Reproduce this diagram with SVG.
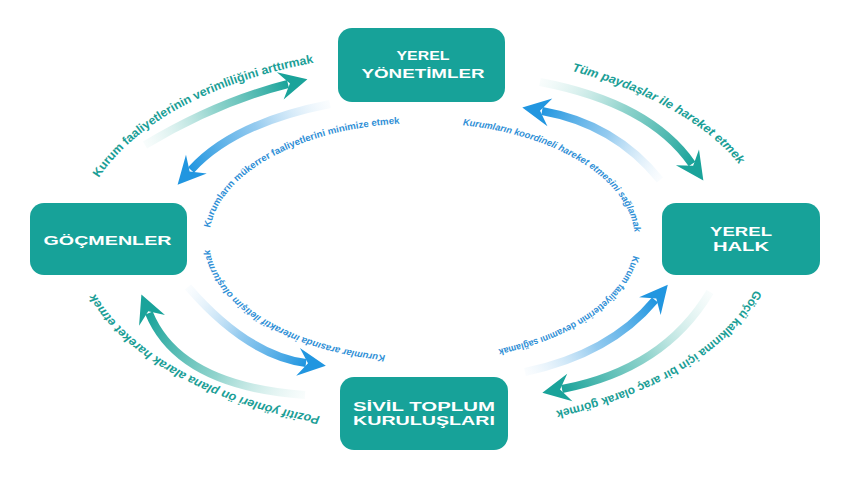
<svg xmlns="http://www.w3.org/2000/svg" width="850" height="480" viewBox="0 0 850 480">
<style>
.box{fill:#17a299}
.nt{fill:#ffffff;font-family:"Liberation Sans",Arial,sans-serif;font-weight:bold;font-size:12.5px;text-anchor:middle}
.ot{fill:#1a9e96;font-family:"Liberation Sans",Arial,sans-serif;font-weight:bold;font-size:12px}
.it{fill:#2f8fd6;font-family:"Liberation Sans",Arial,sans-serif;font-weight:bold;font-size:9.5px}
.i{font-style:italic}
.arr{fill:none;stroke-width:8}
</style>
<defs>
<linearGradient id="gT">
<stop offset="0" stop-color="#bfe6e2" stop-opacity="0.1"/>
<stop offset="0.5" stop-color="#6cc5bc" stop-opacity="0.75"/>
<stop offset="1" stop-color="#1aa39a"/>
</linearGradient>
<linearGradient id="gB">
<stop offset="0" stop-color="#cfe6f7" stop-opacity="0.1"/>
<stop offset="0.5" stop-color="#79bdeb" stop-opacity="0.8"/>
<stop offset="1" stop-color="#2196e0"/>
</linearGradient>
<linearGradient id="g1" href="#gT" gradientUnits="userSpaceOnUse" x1="145" y1="145" x2="288" y2="84"/>
<linearGradient id="g2" href="#gB" gradientUnits="userSpaceOnUse" x1="330" y1="104" x2="191" y2="170"/>
<linearGradient id="g3" href="#gT" gradientUnits="userSpaceOnUse" x1="540" y1="82" x2="692" y2="164"/>
<linearGradient id="g4" href="#gB" gradientUnits="userSpaceOnUse" x1="660" y1="180" x2="542" y2="111"/>
<linearGradient id="g5" href="#gB" gradientUnits="userSpaceOnUse" x1="525" y1="372" x2="655" y2="300"/>
<linearGradient id="g6" href="#gT" gradientUnits="userSpaceOnUse" x1="710" y1="292" x2="562" y2="389"/>
<linearGradient id="g7" href="#gT" gradientUnits="userSpaceOnUse" x1="305" y1="395" x2="149" y2="313"/>
<linearGradient id="g8" href="#gB" gradientUnits="userSpaceOnUse" x1="188" y1="287" x2="306" y2="363"/>
<marker id="hT" markerUnits="userSpaceOnUse" viewBox="-10 -16 32 32" markerWidth="32" markerHeight="32" refX="0" refY="0" orient="auto" overflow="visible">
<polygon points="20,0 -8,-14 2,0 -8,14" fill="#1aa39a"/>
</marker>
<marker id="hB" markerUnits="userSpaceOnUse" viewBox="-10 -16 32 32" markerWidth="32" markerHeight="32" refX="0" refY="0" orient="auto" overflow="visible">
<polygon points="20,0 -8,-14 2,0 -8,14" fill="#2196e0"/>
</marker>
<path id="p1" d="M96.8,181.5 A344,186 0 0 1 317.7,62.1"/>
<path id="p2" d="M569.4,70.4 A344,186 0 0 1 740.7,166.3"/>
<path id="p3" d="M756.3,287.1 A344,186 0 0 1 552.9,411.5"/>
<path id="p4" d="M323.4,416.9 A344,186 0 0 1 93.3,290.3"/>
<path id="p5" d="M209.5,231.8 A213,117 0 0 1 403.4,123.4"/>
<path id="p6" d="M459,124.8 A213,117 0 0 1 634.9,235.9"/>
<path id="p7" d="M633.8,252.2 A213,117 0 0 1 494.9,349.9"/>
<path id="p8" d="M388.7,355.6 A213,117 0 0 1 209.3,246.1"/>
</defs>
<rect width="850" height="480" fill="#ffffff"/>
<g id="connectors">
<path class="arr" stroke="url(#g1)" marker-end="url(#hT)" d="M145,145 Q217.5,101.6 288,84"/>
<path class="arr" stroke="url(#g2)" marker-end="url(#hB)" d="M330,104 Q233.5,123 191,170"/>
<path class="arr" stroke="url(#g3)" marker-end="url(#hT)" d="M540,82 Q650,103 692,164"/>
<path class="arr" stroke="url(#g4)" marker-end="url(#hB)" d="M660,180 Q614.7,123.8 542,111"/>
<path class="arr" stroke="url(#g5)" marker-end="url(#hB)" d="M525,372 Q610,354 655,300"/>
<path class="arr" stroke="url(#g6)" marker-end="url(#hT)" d="M710,292 Q664,369.5 562,389"/>
<path class="arr" stroke="url(#g7)" marker-end="url(#hT)" d="M305,395 Q179,386 149,313"/>
<path class="arr" stroke="url(#g8)" marker-end="url(#hB)" d="M188,287 Q247,355 306,363"/>
</g>
<g id="labels">
<text class="ot"><textPath href="#p1" startOffset="50%" text-anchor="middle" textLength="250" lengthAdjust="spacingAndGlyphs">Kurum faaliyetlerinin verimliliğini arttırmak</textPath></text>
<text class="ot i"><textPath href="#p2" startOffset="50%" text-anchor="middle" textLength="195" lengthAdjust="spacingAndGlyphs">Tüm paydaşlar ile hareket etmek</textPath></text>
<text class="ot"><textPath href="#p3" startOffset="50%" text-anchor="middle" textLength="240" lengthAdjust="spacingAndGlyphs">Göçü kalkınma için bir araç olarak görmek</textPath></text>
<text class="ot i"><textPath href="#p4" startOffset="50%" text-anchor="middle" textLength="264" lengthAdjust="spacingAndGlyphs">Pozitif yönleri ön plana alarak hareket etmek</textPath></text>
<text class="it"><textPath href="#p5" startOffset="50%" text-anchor="middle" textLength="230" lengthAdjust="spacingAndGlyphs">Kurumların mükerrer faaliyetlerini minimize etmek</textPath></text>
<text class="it i"><textPath href="#p6" startOffset="50%" text-anchor="middle" textLength="216" lengthAdjust="spacingAndGlyphs">Kurumların koordineli hareket etmesini sağlamak</textPath></text>
<text class="it"><textPath href="#p7" startOffset="50%" text-anchor="middle" textLength="172" lengthAdjust="spacingAndGlyphs">Kurum faaliyetlerinin devamını sağlamak</textPath></text>
<text class="it i"><textPath href="#p8" startOffset="50%" text-anchor="middle" textLength="218" lengthAdjust="spacingAndGlyphs">Kurumlar arasında interaktif iletişim oluşturmak</textPath></text>
</g>
<g id="node-yerel-yonetimler">
<rect class="box" x="338" y="28" width="167" height="74" rx="14"/>
<text class="nt" x="423" y="59.5" textLength="53" lengthAdjust="spacingAndGlyphs">YEREL</text>
<text class="nt" x="423" y="77.5" textLength="123" lengthAdjust="spacingAndGlyphs">YÖNETİMLER</text>
</g>
<g id="node-gocmenler">
<rect class="box" x="30" y="203" width="157" height="72" rx="14"/>
<text class="nt" x="107.5" y="244.5" textLength="128" lengthAdjust="spacingAndGlyphs">GÖÇMENLER</text>
</g>
<g id="node-yerel-halk">
<rect class="box" x="662" y="203" width="158" height="72" rx="14"/>
<text class="nt" x="741" y="235.5" textLength="62" lengthAdjust="spacingAndGlyphs">YEREL</text>
<text class="nt" x="741" y="251" textLength="56" lengthAdjust="spacingAndGlyphs">HALK</text>
</g>
<g id="node-sivil-toplum">
<rect class="box" x="340" y="377" width="168" height="73" rx="14"/>
<text class="nt" x="424" y="410.5" textLength="142" lengthAdjust="spacingAndGlyphs">SİVİL TOPLUM</text>
<text class="nt" x="424" y="425" textLength="142" lengthAdjust="spacingAndGlyphs">KURULUŞLARI</text>
</g>
</svg>
